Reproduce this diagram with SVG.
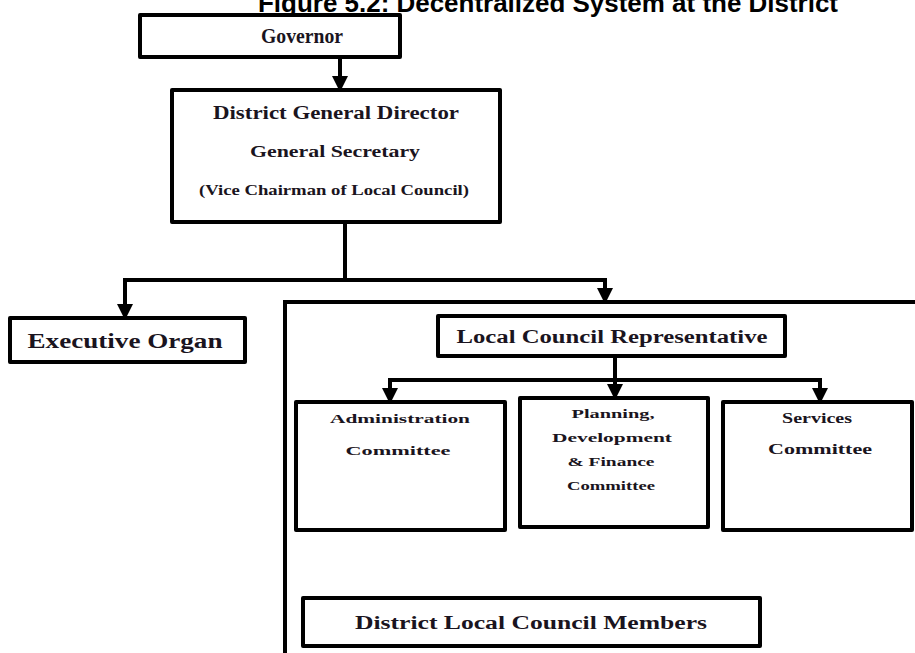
<svg xmlns="http://www.w3.org/2000/svg" width="915" height="653" viewBox="0 0 915 653">
<style>
.box{fill:#fff;stroke:#000;stroke-width:4;stroke-linejoin:round}
.ln{fill:none;stroke:#000;stroke-width:4}
.t{font-family:"Liberation Serif","Times New Roman",serif;font-weight:bold;fill:#1a1420;text-anchor:middle}
.title{font-family:"Liberation Sans",Arial,sans-serif;font-weight:bold;font-size:25px;fill:#000;text-anchor:middle}
</style>
<defs>
<marker id="ah" markerWidth="4" markerHeight="4" refX="2" refY="2" orient="auto" markerUnits="strokeWidth">
<path d="M0,0 L4,2 L0,4 Z" fill="#000"/>
</marker>
</defs>
<rect width="915" height="653" fill="#fff"/>
<text class="title" x="548" y="12" textLength="580" lengthAdjust="spacingAndGlyphs">Figure 5.2: Decentralized System at the District</text>

<g id="connectors">
<path class="ln" d="M340,57 V84" marker-end="url(#ah)"/>
<path class="ln" d="M345,222 V280 M125,280 H605"/>
<path class="ln" d="M125,278 V312" marker-end="url(#ah)"/>
<path class="ln" d="M605,278 V296" marker-end="url(#ah)"/>
<path class="ln" d="M615,356 V380 M390,380 H820"/>
<path class="ln" d="M390,378 V396" marker-end="url(#ah)"/>
<path class="ln" d="M615,378 V392" marker-end="url(#ah)"/>
<path class="ln" d="M820,378 V396" marker-end="url(#ah)"/>
</g>

<g id="governor">
<rect class="box" x="140" y="15" width="260" height="42"/>
<text class="t" x="302" y="43" font-size="21" textLength="82" lengthAdjust="spacingAndGlyphs">Governor</text>
</g>

<g id="district-general-director">
<rect class="box" x="172" y="90" width="328" height="132"/>
<text class="t" x="336" y="119" font-size="18" textLength="246" lengthAdjust="spacingAndGlyphs">District General Director</text>
<text class="t" x="335" y="157" font-size="16" textLength="170" lengthAdjust="spacingAndGlyphs">General Secretary</text>
<text class="t" x="334" y="195" font-size="14" textLength="270" lengthAdjust="spacingAndGlyphs">(Vice Chairman of Local Council)</text>
</g>

<g id="executive-organ">
<rect class="box" x="10" y="318" width="235" height="44"/>
<text class="t" x="125" y="348" font-size="20" textLength="195" lengthAdjust="spacingAndGlyphs">Executive Organ</text>
</g>

<g id="local-council">
<path class="ln" d="M285,653 V302 H915"/>
</g>

<g id="local-council-representative">
<rect class="box" x="438" y="316" width="347" height="40"/>
<text class="t" x="612" y="343" font-size="18" textLength="311" lengthAdjust="spacingAndGlyphs">Local Council Representative</text>
</g>

<g id="administration-committee">
<rect class="box" x="296" y="402" width="209" height="128"/>
<text class="t" x="400" y="423" font-size="13" textLength="140" lengthAdjust="spacingAndGlyphs">Administration</text>
<text class="t" x="398" y="455" font-size="13" textLength="105" lengthAdjust="spacingAndGlyphs">Committee</text>
</g>

<g id="planning-committee">
<rect class="box" x="520" y="398" width="188" height="129"/>
<text class="t" x="613" y="418" font-size="13" textLength="83" lengthAdjust="spacingAndGlyphs">Planning,</text>
<text class="t" x="612" y="442" font-size="13" textLength="120" lengthAdjust="spacingAndGlyphs">Development</text>
<text class="t" x="611" y="466" font-size="13" textLength="87" lengthAdjust="spacingAndGlyphs">&amp; Finance</text>
<text class="t" x="611" y="490" font-size="13" textLength="88" lengthAdjust="spacingAndGlyphs">Committee</text>
</g>

<g id="services-committee">
<rect class="box" x="723" y="402" width="189" height="128"/>
<text class="t" x="817" y="423" font-size="14" textLength="70" lengthAdjust="spacingAndGlyphs">Services</text>
<text class="t" x="820" y="454" font-size="14" textLength="104" lengthAdjust="spacingAndGlyphs">Committee</text>
</g>

<g id="district-local-council-members">
<rect class="box" x="303" y="598" width="457" height="48"/>
<text class="t" x="531" y="629" font-size="18" textLength="352" lengthAdjust="spacingAndGlyphs">District Local Council Members</text>
</g>
</svg>
